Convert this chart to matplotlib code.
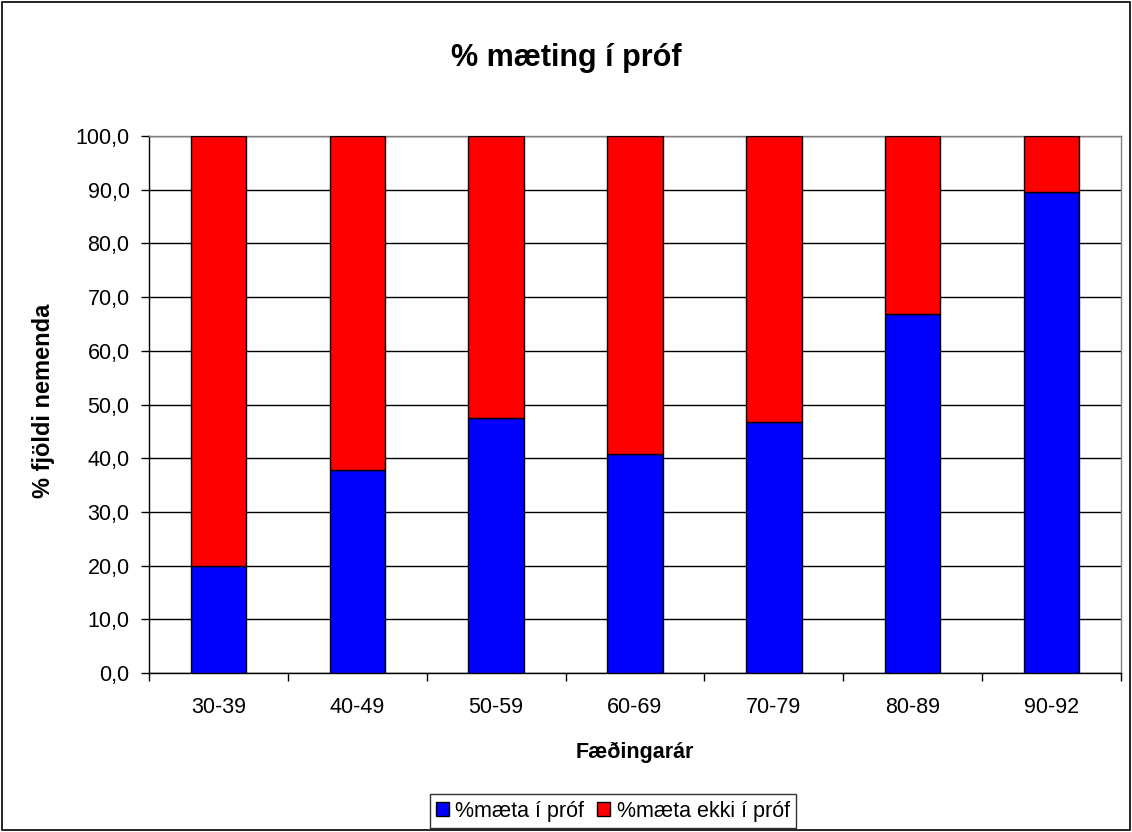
import matplotlib
matplotlib.use("Agg")
import matplotlib.pyplot as plt
from matplotlib.ticker import FuncFormatter, FixedLocator
from matplotlib.patches import Rectangle
import numpy as np

plt.rcParams['font.family'] = ['Liberation Sans', 'DejaVu Sans']

categories = ["30-39", "40-49", "50-59", "60-69", "70-79", "80-89", "90-92"]
maeta = [20.0, 37.8, 47.5, 40.7, 46.7, 66.8, 89.5]
maeta_ekki = [100 - v for v in maeta]
yticks = [0, 10, 20, 30, 40, 50, 60, 70, 80, 90, 100]

fig = plt.figure(figsize=(11.32, 8.32), dpi=100)
ax = fig.add_axes([149/1132, (832-673)/832, 972/1132, (673-136)/832])

x = np.arange(len(categories))
ax.bar(x, maeta, width=0.4, color="#0000FF", edgecolor="black", linewidth=1.0,
       label="%mæta í próf", zorder=3)
ax.bar(x, maeta_ekki, bottom=maeta, width=0.4, color="#FF0000", edgecolor="black",
       linewidth=1.0, label="%mæta ekki í próf", zorder=3)

ax.set_xlim(-0.5, len(categories) - 0.5)
ax.set_ylim(0, 100)
ax.set_yticks(yticks)
ax.yaxis.set_major_formatter(FuncFormatter(lambda v, p: f"{v:.1f}".replace(".", ",")))
ax.yaxis.grid(True, color="black", linewidth=1.0, zorder=0)
ax.set_axisbelow(True)

ax.set_xticks(x)
ax.set_xticklabels(categories)
ax.xaxis.set_minor_locator(FixedLocator(np.arange(-0.5, len(categories), 1.0)))
ax.tick_params(axis='x', which='major', length=0, pad=17, labelsize=15.5)
ax.tick_params(axis='x', which='minor', length=5.5, width=1, direction='out')
ax.tick_params(axis='y', length=6, width=1, direction='out', labelsize=15.5, pad=8)

for side in ['top', 'right']:
    ax.spines[side].set_visible(True)
    ax.spines[side].set_color("#808080")
    ax.spines[side].set_linewidth(1.0)
ax.spines['left'].set_linewidth(1.0)
ax.spines['bottom'].set_linewidth(1.0)

ax.set_xlabel("Fæðingarár", fontsize=15.5, fontweight='bold', va='center')
ax.xaxis.set_label_coords(0.5, (673 - 752) / 537)
ax.set_ylabel("% fjöldi nemenda", fontsize=17, fontweight='bold', va='center')
ax.yaxis.set_label_coords((44 - 149) / 972, (673 - 401) / 537)

fig.text(0.5, 1 - 66/832, "% mæting í próf", fontsize=22, fontweight='bold',
         ha='center', va='baseline')

leg = ax.legend(loc='center', bbox_to_anchor=(613/1132, 1 - 811/832),
                bbox_transform=fig.transFigure, ncol=2, fontsize=15.5,
                frameon=True, fancybox=False, edgecolor='black',
                handlelength=0.6, handleheight=0.6, handletextpad=0.3,
                columnspacing=0.6, borderpad=0.3, borderaxespad=0)
leg.get_frame().set_linewidth(1.0)

fig.patches.append(Rectangle((0.0015, 0.002), 0.997, 0.996, transform=fig.transFigure,
                             fill=False, edgecolor='black', linewidth=1.2))

fig.savefig("out.png", dpi=100, facecolor='white')
